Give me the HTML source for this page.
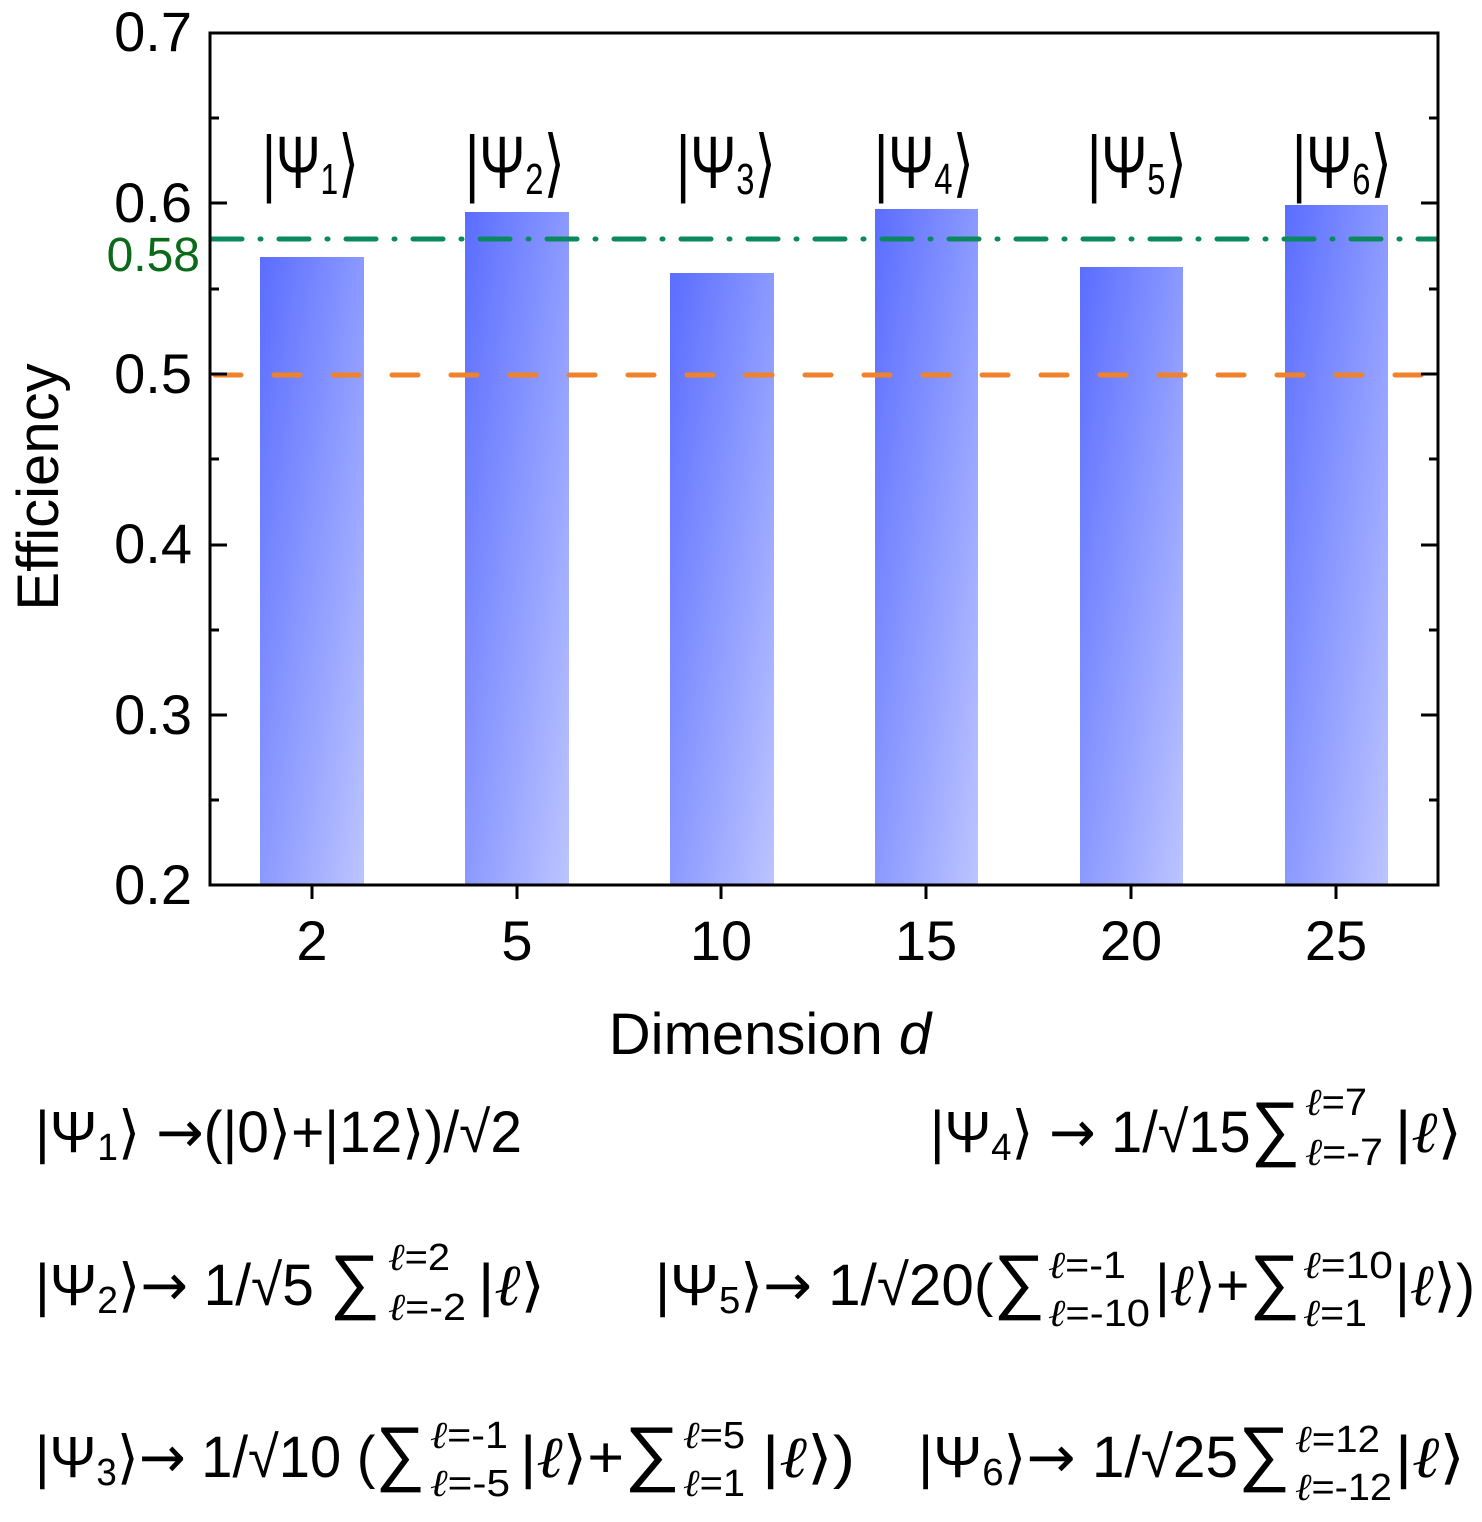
<!DOCTYPE html>
<html><head><meta charset="utf-8"><style>
html,body{margin:0;padding:0;background:#fff;}
svg{display:block;font-family:"Liberation Sans","DejaVu Sans",sans-serif;}
.a{font-family:"DejaVu Sans",sans-serif;}
.l{font-style:italic;font-family:"Liberation Serif",serif;}
</style></head><body>
<svg width="1482" height="1522" viewBox="0 0 1482 1522" xmlns="http://www.w3.org/2000/svg">
<defs>
<linearGradient id="g" x1="0" y1="0" x2="1" y2="1">
<stop offset="0" stop-color="#5a6dff"/><stop offset="1" stop-color="#bcc5ff"/>
</linearGradient>
</defs>
<rect x="260" y="257" width="104" height="628" fill="url(#g)"/>
<rect x="465" y="212" width="104" height="673" fill="url(#g)"/>
<rect x="670" y="273" width="104" height="612" fill="url(#g)"/>
<rect x="875" y="209" width="103" height="676" fill="url(#g)"/>
<rect x="1080" y="267" width="103" height="618" fill="url(#g)"/>
<rect x="1285" y="205" width="103" height="680" fill="url(#g)"/>
<line x1="212" y1="239" x2="1436" y2="239" stroke="#0a8a5c" stroke-width="5" stroke-linecap="round" stroke-dasharray="30 18 1 18"/>
<line x1="215" y1="375" x2="1436" y2="375" stroke="#f0822c" stroke-width="5" stroke-linecap="round" stroke-dasharray="26 33"/>
<rect x="210" y="33" width="1228" height="852" fill="none" stroke="#000" stroke-width="3"/>
<g stroke="#000" stroke-width="3">
<line x1="210" y1="203" x2="227" y2="203"/><line x1="210" y1="374" x2="227" y2="374"/>
<line x1="210" y1="545" x2="227" y2="545"/><line x1="210" y1="715" x2="227" y2="715"/>
<line x1="210" y1="118" x2="219" y2="118"/><line x1="210" y1="289" x2="219" y2="289"/>
<line x1="210" y1="459" x2="219" y2="459"/><line x1="210" y1="630" x2="219" y2="630"/><line x1="210" y1="800" x2="219" y2="800"/>
<line x1="1421" y1="203" x2="1438" y2="203"/><line x1="1421" y1="374" x2="1438" y2="374"/>
<line x1="1421" y1="545" x2="1438" y2="545"/><line x1="1421" y1="715" x2="1438" y2="715"/>
<line x1="1429" y1="118" x2="1438" y2="118"/><line x1="1429" y1="289" x2="1438" y2="289"/>
<line x1="1429" y1="459" x2="1438" y2="459"/><line x1="1429" y1="630" x2="1438" y2="630"/><line x1="1429" y1="800" x2="1438" y2="800"/>
<line x1="312" y1="885" x2="312" y2="899"/><line x1="517" y1="885" x2="517" y2="899"/>
<line x1="721" y1="885" x2="721" y2="899"/><line x1="926" y1="885" x2="926" y2="899"/>
<line x1="1131" y1="885" x2="1131" y2="899"/><line x1="1336" y1="885" x2="1336" y2="899"/>
</g>
<g font-size="56" text-anchor="end" fill="#000">
<text x="192" y="51">0.7</text><text x="192" y="222">0.6</text>
<text x="192" y="393">0.5</text><text x="192" y="563">0.4</text>
<text x="192" y="734">0.3</text><text x="192" y="904">0.2</text>
</g>
<text x="200" y="271" font-size="48" text-anchor="end" fill="#0a6a1a">0.58</text>
<g font-size="56" text-anchor="middle">
<text x="312" y="960">2</text><text x="517" y="960">5</text><text x="721" y="960">10</text>
<text x="926" y="960">15</text><text x="1131" y="960">20</text><text x="1336" y="960">25</text>
</g>
<text x="770" y="1054" font-size="58" text-anchor="middle">Dimension <tspan font-style="italic">d</tspan></text>
<text transform="translate(58,487) rotate(-90)" font-size="58" text-anchor="middle">Efficiency</text>
<g font-size="74">
<text x="262" y="188" textLength="97" lengthAdjust="spacingAndGlyphs">|Ψ<tspan font-size="44" dy="6">1</tspan><tspan dy="-6">⟩</tspan></text>
<text x="465" y="188" textLength="100" lengthAdjust="spacingAndGlyphs">|Ψ<tspan font-size="44" dy="6">2</tspan><tspan dy="-6">⟩</tspan></text>
<text x="676" y="188" textLength="100" lengthAdjust="spacingAndGlyphs">|Ψ<tspan font-size="44" dy="6">3</tspan><tspan dy="-6">⟩</tspan></text>
<text x="874" y="188" textLength="100" lengthAdjust="spacingAndGlyphs">|Ψ<tspan font-size="44" dy="6">4</tspan><tspan dy="-6">⟩</tspan></text>
<text x="1087" y="188" textLength="100" lengthAdjust="spacingAndGlyphs">|Ψ<tspan font-size="44" dy="6">5</tspan><tspan dy="-6">⟩</tspan></text>
<text x="1292" y="188" textLength="100" lengthAdjust="spacingAndGlyphs">|Ψ<tspan font-size="44" dy="6">6</tspan><tspan dy="-6">⟩</tspan></text>
</g>
<g font-size="58">
<text x="35" y="1152" textLength="487" lengthAdjust="spacingAndGlyphs">|Ψ<tspan font-size="38" dy="8">1</tspan><tspan dy="-8">⟩ </tspan><tspan class="a">→</tspan>(|0⟩+|12⟩)/√2</text>

<text x="930" y="1152" textLength="370" lengthAdjust="spacingAndGlyphs">|Ψ<tspan font-size="38" dy="8">4</tspan><tspan dy="-8">⟩ </tspan><tspan class="a">→</tspan> 1/√15<tspan font-size="72">∑</tspan></text>
<text x="1305" y="1115" font-size="38" textLength="62" lengthAdjust="spacingAndGlyphs"><tspan class="l">ℓ</tspan>=7</text>
<text x="1305" y="1165" font-size="38" textLength="78" lengthAdjust="spacingAndGlyphs"><tspan class="l">ℓ</tspan>=-7</text>
<text x="1395" y="1152" textLength="67" lengthAdjust="spacingAndGlyphs">|<tspan class="l">ℓ</tspan>⟩</text>

<text x="35" y="1305" textLength="345" lengthAdjust="spacingAndGlyphs">|Ψ<tspan font-size="38" dy="8">2</tspan><tspan dy="-8">⟩</tspan><tspan class="a">→</tspan> 1/√5 <tspan font-size="72">∑</tspan></text>
<text x="388" y="1270" font-size="38" textLength="62" lengthAdjust="spacingAndGlyphs"><tspan class="l">ℓ</tspan>=2</text>
<text x="388" y="1320" font-size="38" textLength="78" lengthAdjust="spacingAndGlyphs"><tspan class="l">ℓ</tspan>=-2</text>
<text x="478" y="1305" textLength="67" lengthAdjust="spacingAndGlyphs">|<tspan class="l">ℓ</tspan>⟩</text>

<text x="655" y="1305" textLength="390" lengthAdjust="spacingAndGlyphs">|Ψ<tspan font-size="38" dy="8">5</tspan><tspan dy="-8">⟩</tspan><tspan class="a">→</tspan> 1/√20(<tspan font-size="72">∑</tspan></text>
<text x="1048" y="1278" font-size="38" textLength="78" lengthAdjust="spacingAndGlyphs"><tspan class="l">ℓ</tspan>=-1</text>
<text x="1048" y="1326" font-size="38" textLength="102" lengthAdjust="spacingAndGlyphs"><tspan class="l">ℓ</tspan>=-10</text>
<text x="1155" y="1305" textLength="145" lengthAdjust="spacingAndGlyphs">|<tspan class="l">ℓ</tspan>⟩+<tspan font-size="72">∑</tspan></text>
<text x="1303" y="1278" font-size="38" textLength="90" lengthAdjust="spacingAndGlyphs"><tspan class="l">ℓ</tspan>=10</text>
<text x="1303" y="1326" font-size="38" textLength="64" lengthAdjust="spacingAndGlyphs"><tspan class="l">ℓ</tspan>=1</text>
<text x="1395" y="1305" textLength="80" lengthAdjust="spacingAndGlyphs">|<tspan class="l">ℓ</tspan>⟩)</text>

<text x="35" y="1477" textLength="390" lengthAdjust="spacingAndGlyphs">|Ψ<tspan font-size="38" dy="8">3</tspan><tspan dy="-8">⟩</tspan><tspan class="a">→</tspan> 1/√10 (<tspan font-size="72">∑</tspan></text>
<text x="430" y="1448" font-size="38" textLength="78" lengthAdjust="spacingAndGlyphs"><tspan class="l">ℓ</tspan>=-1</text>
<text x="430" y="1496" font-size="38" textLength="80" lengthAdjust="spacingAndGlyphs"><tspan class="l">ℓ</tspan>=-5</text>
<text x="520" y="1477" textLength="160" lengthAdjust="spacingAndGlyphs">|<tspan class="l">ℓ</tspan>⟩+<tspan font-size="72">∑</tspan></text>
<text x="683" y="1448" font-size="38" textLength="62" lengthAdjust="spacingAndGlyphs"><tspan class="l">ℓ</tspan>=5</text>
<text x="683" y="1496" font-size="38" textLength="62" lengthAdjust="spacingAndGlyphs"><tspan class="l">ℓ</tspan>=1</text>
<text x="762" y="1477" textLength="93" lengthAdjust="spacingAndGlyphs">|<tspan class="l">ℓ</tspan>⟩)</text>

<text x="918" y="1477" textLength="372" lengthAdjust="spacingAndGlyphs">|Ψ<tspan font-size="38" dy="8">6</tspan><tspan dy="-8">⟩</tspan><tspan class="a">→</tspan> 1/√25<tspan font-size="72">∑</tspan></text>
<text x="1295" y="1452" font-size="38" textLength="85" lengthAdjust="spacingAndGlyphs"><tspan class="l">ℓ</tspan>=12</text>
<text x="1295" y="1500" font-size="38" textLength="97" lengthAdjust="spacingAndGlyphs"><tspan class="l">ℓ</tspan>=-12</text>
<text x="1395" y="1477" textLength="70" lengthAdjust="spacingAndGlyphs">|<tspan class="l">ℓ</tspan>⟩</text>
</g>
</svg>
</body></html>
